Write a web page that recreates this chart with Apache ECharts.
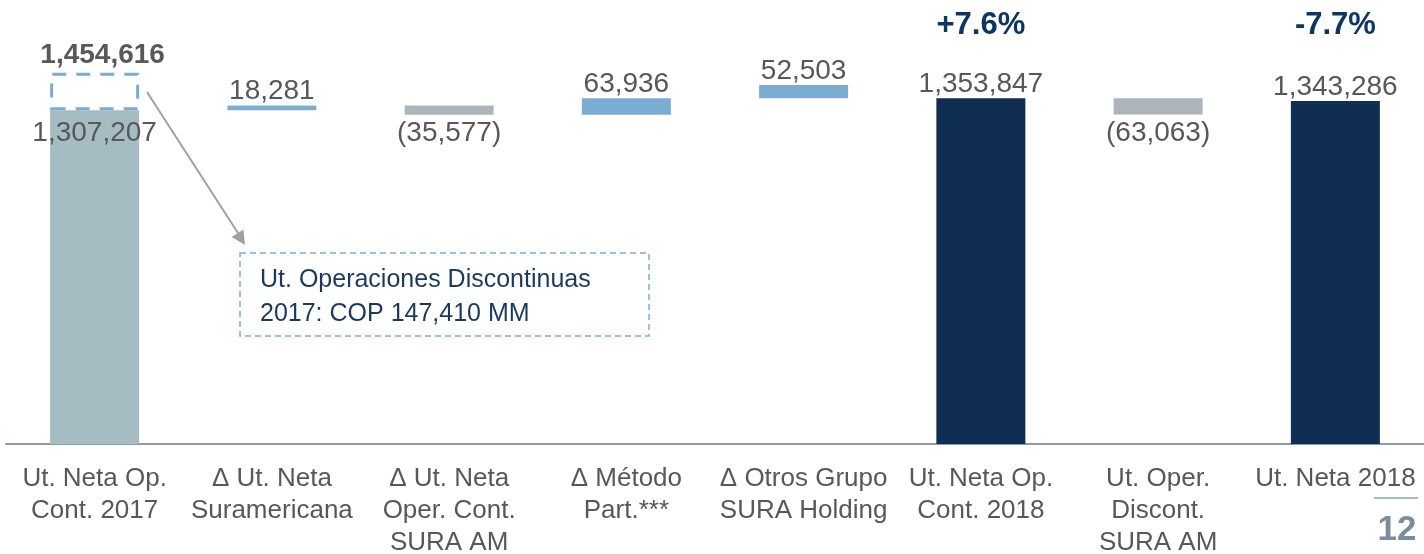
<!DOCTYPE html>
<html>
<head>
<meta charset="utf-8">
<title>Utilidad neta 2018</title>
<script src="https://cdn.jsdelivr.net/npm/echarts@6/dist/echarts.min.js"></script>
<style>
html, body { margin: 0; padding: 0; background: #fff; }
#chart { width: 1424px; height: 554px; }
</style>
</head>
<body>
<div id="chart"></div>
<script>
// datos (COP MM)
var categorias = [
    'Ut. Neta Op.\nCont. 2017',
    'Δ Ut. Neta\nSuramericana',
    'Δ Ut. Neta\nOper. Cont.\nSURA AM',
    'Δ Método\nPart.***',
    'Δ Otros Grupo\nSURA Holding',
    'Ut. Neta Op.\nCont. 2018',
    'Ut. Oper.\nDiscont.\nSURA AM',
    'Ut. Neta 2018'
];
var valores = [1307207, 18281, -35577, 63936, 52503, 1353847, -63063, 1343286];
var tipos = ['total', 'delta', 'delta', 'delta', 'delta', 'total', 'delta', 'total'];
var discontinuas2017 = 147410;
var total2017 = 1454616;
var variaciones = ['', '', '', '', '', '+7.6%', '', '-7.7%'];

var gris = '#58585a';
var fuente = '"Liberation Sans", Arial, sans-serif';

function miles(n) {
    return Math.abs(n).toLocaleString('en-US');
}

// base invisible + altura de cada barra (cascada)
var base = [], alto = [], acum = 0;
valores.forEach(function (v, i) {
    if (tipos[i] == 'total') {
        acum = v;
        base.push(0);
        alto.push(v);
    } else if (v >= 0) {
        base.push(acum);
        alto.push(v);
        acum += v;
    } else {
        acum += v;
        base.push(acum);
        alto.push(-v);
    }
});

var datosBarra = alto.map(function (h, i) {
    var v = valores[i];
    var color;
    if (tipos[i] == 'total') color = i == 0 ? '#a6bcc3' : '#0f2e51';
    else color = v >= 0 ? '#7badd3' : '#adb5bc';
    var label = {
        formatter: v < 0 ? '(' + miles(v) + ')' : miles(v),
        position: v < 0 ? 'bottom' : 'top',
        distance: v < 0 ? 5 : 0
    };
    if (i == 0) {
        label.position = 'insideTop';
        label.distance = 9;
    }
    return { value: h, itemStyle: { color: color }, label: label };
});

var datosDisc = categorias.map(function (c, i) {
    return i == 0 ? discontinuas2017 : '-';
});

var puntosVar = [];
variaciones.forEach(function (t, i) {
    if (t) puntosVar.push({ coord: [categorias[i], 1638000], value: t });
});

var myChart = echarts.init(document.getElementById('chart'));
myChart.setOption({
    animation: false,
    textStyle: { fontFamily: fuente },
    grid: { left: 6, right: 0, top: 10, bottom: 110, outerBoundsMode: 'none' },
    xAxis: {
        type: 'category',
        data: categorias,
        axisLine: { lineStyle: { color: '#8a9aab', width: 2 } },
        axisTick: { show: false },
        axisLabel: {
            interval: 0,
            margin: 19,
            fontSize: 26,
            lineHeight: 32,
            color: gris,
            fontFamily: fuente
        }
    },
    yAxis: {
        type: 'value',
        min: 0,
        max: 1700000,
        show: false,
        splitLine: { show: false }
    },
    series: [
        {
            name: 'base',
            type: 'bar',
            stack: 'cascada',
            barWidth: 89,
            silent: true,
            itemStyle: { color: 'rgba(0,0,0,0)' },
            data: base
        },
        {
            name: 'valor',
            type: 'bar',
            stack: 'cascada',
            barWidth: 89,
            label: {
                show: true,
                fontSize: 28,
                color: gris,
                fontFamily: fuente,
                textBorderWidth: 0
            },
            data: datosBarra,
            markPoint: {
                symbol: 'circle',
                symbolSize: 1,
                itemStyle: { color: 'rgba(0,0,0,0)' },
                label: {
                    show: true,
                    position: 'inside',
                    fontSize: 31,
                    fontWeight: 'bold',
                    color: '#0d3660',
                    fontFamily: fuente,
                    formatter: function (p) { return p.value; }
                },
                data: puntosVar
            }
        },
        {
            name: 'discontinuas',
            type: 'bar',
            stack: 'cascada',
            barWidth: 89,
            itemStyle: {
                color: 'rgba(0,0,0,0)',
                borderColor: '#7badd3',
                borderWidth: 3,
                borderType: [14, 10]
            },
            label: {
                show: true,
                position: 'top',
                distance: 3,
                offset: [8, 0],
                fontSize: 28,
                fontWeight: 'bold',
                color: gris,
                fontFamily: fuente,
                formatter: function () { return miles(total2017); }
            },
            data: datosDisc
        }
    ],
    graphic: [
        {
            type: 'rect',
            shape: { x: 240, y: 253, width: 409, height: 83 },
            style: { fill: 'none', stroke: '#7badd3', lineWidth: 1.5, lineDash: [6, 4] }
        },
        {
            type: 'text',
            x: 260,
            y: 263,
            style: {
                text: 'Ut. Operaciones Discontinuas\n2017: COP 147,410 MM',
                fontSize: 25,
                fontFamily: fuente,
                lineHeight: 34,
                fill: '#1a3a5c',
                verticalAlign: 'top'
            }
        },
        {
            type: 'line',
            shape: { x1: 147, y1: 92, x2: 238, y2: 233 },
            style: { stroke: '#a0a0a0', lineWidth: 2 }
        },
        {
            type: 'polygon',
            shape: { points: [[245, 245], [231.6, 237], [243.4, 229.4]] },
            style: { fill: '#a0a0a0' }
        },
        {
            type: 'line',
            shape: { x1: 1374, y1: 498, x2: 1418, y2: 498 },
            style: { stroke: '#8da0b3', lineWidth: 1.5 }
        },
        {
            type: 'text',
            x: 1397,
            y: 530,
            style: {
                text: '12',
                fontSize: 35,
                fontWeight: 'bold',
                fontFamily: fuente,
                fill: '#7b8d9c',
                align: 'center',
                verticalAlign: 'middle'
            }
        }
    ]
});
</script>
</body>
</html>
